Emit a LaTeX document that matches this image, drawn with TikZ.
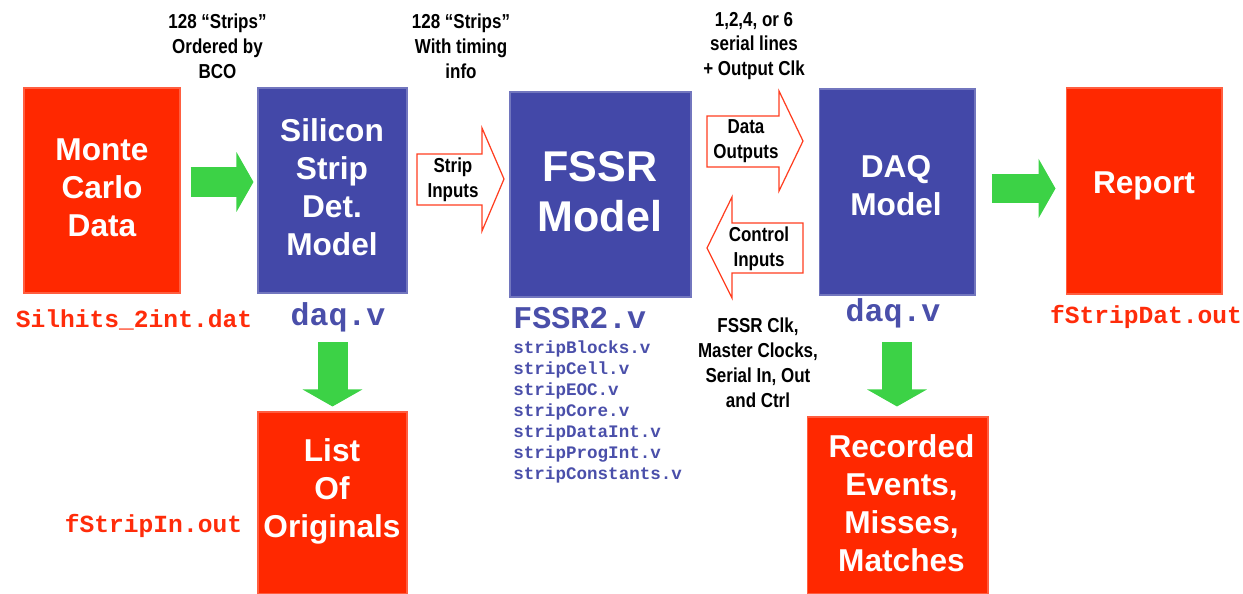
\documentclass[tikz,border=0pt]{standalone}
\usepackage{fontspec}
\setmainfont{Liberation Sans}
\setmonofont{Liberation Mono}
\newfontfamily\narrowsf[FakeStretch=0.84]{Liberation Sans}
\usetikzlibrary{arrows.meta,positioning}

\definecolor{boxred}{RGB}{255,40,0}
\definecolor{boxblue}{RGB}{67,72,168}
\definecolor{filered}{RGB}{255,44,10}
\definecolor{fileblue}{RGB}{74,79,170}
\definecolor{flowgreen}{RGB}{60,210,70}
\definecolor{hollowline}{RGB}{255,62,32}

\begin{document}
\begin{tikzpicture}[x=0.02cm, y=-0.02cm]

        % one unit is one pixel of the slide, y runs downwards
        \tikzset{
            block/.style={rectangle, inner sep=0pt, line width=0.6pt},
            redbox/.style={block, fill=boxred, draw=boxred!75!white},
            bluebox/.style={block, fill=boxblue, draw=boxblue!75!white},
            boxtext/.style={inner sep=0pt, text=white, align=center,
                font=\bfseries\fontsize{18}{21.7}\selectfont},
            bigtext/.style={boxtext, font=\bfseries\fontsize{24.5}{28.4}\selectfont},
            note/.style={inner sep=0pt, align=center,
                font=\narrowsf\bfseries\fontsize{11.5}{14.2}\selectfont},
            file/.style={inner sep=0pt, font=\ttfamily\bfseries\fontsize{14}{16}\selectfont},
            redfile/.style={file, text=filered},
            bluefile/.style={file, text=fileblue, font=\ttfamily\bfseries\fontsize{18}{20}\selectfont},
            flow/.style={flowgreen, line width=0.6cm,
                -{Triangle[width=1.18cm, length=0.34cm]}},
            hollow/.style={draw=hollowline, fill=white, line width=0.7pt, line join=miter}
        }

        \useasboundingbox (0,0) rectangle (1243,594);

        % Boxes
        \node[redbox, minimum width=3.12cm, minimum height=4.1cm] (mc) at (102,190.5) {};
        \node[bluebox, minimum width=2.98cm, minimum height=4.1cm] (si) at (332.5,190.5) {};
        \node[bluebox, minimum width=3.62cm, minimum height=4.1cm] (fssr) at (600.5,194.5) {};
        \node[bluebox, minimum width=3.12cm, minimum height=4.12cm] (daq) at (897,192) {};
        \node[redbox, minimum width=3.12cm, minimum height=4.12cm] (report) at (1144,191) {};
        \node[redbox, minimum width=2.98cm, minimum height=3.64cm] (orig) at (332.5,503) {};
        \node[redbox, minimum width=3.62cm, minimum height=3.54cm] (rec) at (897.5,505.5) {};

        \node[boxtext] (mctxt) at (102,188) {Monte\\Carlo\\Data};
        \node[boxtext] (sitxt) at (332,187.5) {Silicon\\Strip\\Det.\\Model};
        \node[bigtext] (fssrtxt) at (600,191.5) {FSSR\\Model};
        \node[boxtext] (daqtxt) at (896,186) {DAQ\\Model};
        \node[boxtext] (reporttxt) at (1144,186) {Report};
        \node[boxtext] (origtxt) at (332,491.5) {List\\Of\\Originals};
        \node[boxtext] (rectxt) at (901.5,503) {Recorded\\Events,\\Misses,\\Matches};

        % Labels above the boxes
        \node[note] (notesi) at (217.5,46) {128 “Strips”\\Ordered by\\BCO};
        \node[note] (notefssr) at (461,46) {128 “Strips”\\With timing\\info};
        \node[note] (notedaq) at (754,46) {1,2,4, or 6\\serial lines\\+ Output Clk};
        \node[note] (noteclk) at (758,362.5)
        {FSSR Clk,\\Master Clocks,\\Serial In, Out\\and Ctrl};

        % File names
        \node[redfile] (mcfile) at (134,320) {Silhits\_2int.dat};
        \node[bluefile] (sifile) at (338,317.5) {daq.v};
        \node[bluefile, anchor=west] (fssrfile) at (513,318) {FSSR2.v};
        \node[file, text=fileblue, align=left, anchor=north west,
            font=\ttfamily\bfseries\fontsize{10}{12}\selectfont]
            (stripfiles) at (513,340)
            {stripBlocks.v\\stripCell.v\\stripEOC.v\\stripCore.v\\
             stripDataInt.v\\stripProgInt.v\\stripConstants.v};
        \node[bluefile] (daqfile) at (893,313) {daq.v};
        \node[redfile] (reportfile) at (1146,316.5) {fStripDat.out};
        \node[redfile] (origfile) at (153.5,525.5) {fStripIn.out};

        % Hollow arrows round the FSSR model
        \draw[hollow] (417,154) -- (482,154) -- (482,128) -- (504,179)
            -- (482,231) -- (482,205) -- (417,205) -- cycle;
        \draw[hollow] (707,116) -- (779,116) -- (779,91) -- (803,141)
            -- (779,191) -- (779,167) -- (707,167) -- cycle;
        \draw[hollow] (803,223) -- (732,223) -- (732,197) -- (707,248)
            -- (732,298) -- (732,273) -- (803,273) -- cycle;
        \node[note] (stripin) at (453,180) {Strip\\Inputs};
        \node[note] (dataout) at (746,141) {Data\\Outputs};
        \node[note] (ctrlin) at (759,249) {Control\\Inputs};

        % Green flow arrows
        \draw[flow, shorten <=0.2cm, shorten >=0.08cm]
            ([yshift=0.17cm]mc.east) -- ([yshift=0.17cm]si.west);
        \draw[flow, shorten <=0.32cm, shorten >=0.2cm]
            ([yshift=0.07cm]daq.east) -- ([yshift=0.07cm]daq.east -| report.west);
        \draw[flow, shorten <=0.98cm, shorten >=0.1cm]
            (si.south) -- (si.south |- orig.north);
        \draw[flow, shorten <=0.94cm, shorten >=0.2cm]
            (daq.south) -- (daq.south |- rec.north);

\end{tikzpicture}
\end{document}
